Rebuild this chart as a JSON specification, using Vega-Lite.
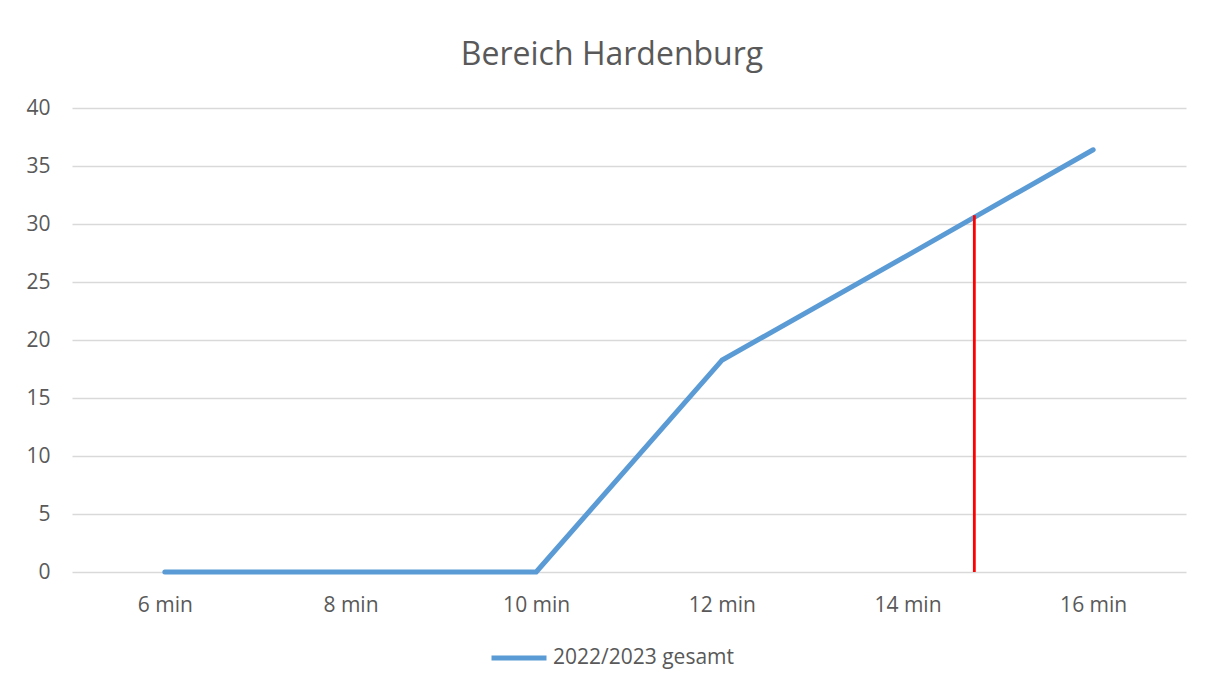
{
  "$schema": "https://vega.github.io/schema/vega-lite/v6.json",
  "width": 1114,
  "height": 464,
  "autosize": {"type": "none"},
  "padding": {"left": 72, "top": 108, "right": 24, "bottom": 114},
  "background": "#ffffff",
  "title": {
    "text": "Bereich Hardenburg",
    "font": "Open Sans",
    "fontSize": 32,
    "fontWeight": "normal",
    "color": "#595959",
    "frame": "group",
    "anchor": "middle",
    "dx": -17,
    "baseline": "alphabetic",
    "offset": 0
  },
  "datasets": {
    "serie": [
      {"minuten": 6, "anzahl": 0, "serie": "2022/2023 gesamt"},
      {"minuten": 8, "anzahl": 0, "serie": "2022/2023 gesamt"},
      {"minuten": 10, "anzahl": 0, "serie": "2022/2023 gesamt"},
      {"minuten": 12, "anzahl": 18.25, "serie": "2022/2023 gesamt"},
      {"minuten": 14, "anzahl": 27.3, "serie": "2022/2023 gesamt"},
      {"minuten": 16, "anzahl": 36.4, "serie": "2022/2023 gesamt"}
    ],
    "marke": [
      {"minuten": 14.72, "anzahl": 30.75}
    ]
  },
  "config": {
    "view": {"stroke": null},
    "axis": {
      "labelFont": "Open Sans",
      "labelFontSize": 21,
      "labelColor": "#595959",
      "ticks": false,
      "tickSize": 0,
      "domain": false,
      "title": null
    }
  },
  "layer": [
    {
      "data": {"name": "serie"},
      "mark": {"type": "line", "strokeWidth": 5, "strokeCap": "round", "strokeJoin": "round"},
      "encoding": {
        "x": {
          "field": "minuten",
          "type": "quantitative",
          "scale": {"domain": [5, 17], "nice": false, "zero": false},
          "axis": {
            "values": [6, 8, 10, 12, 14, 16],
            "labelExpr": "datum.value + ' min'",
            "grid": false,
            "labelPadding": 22
          }
        },
        "y": {
          "field": "anzahl",
          "type": "quantitative",
          "scale": {"domain": [0, 40], "nice": false},
          "axis": {
            "values": [0, 5, 10, 15, 20, 25, 30, 35, 40],
            "grid": true,
            "gridColor": "#d9d9d9",
            "gridWidth": 1.5,
            "labelPadding": 22
          }
        },
        "color": {
          "field": "serie",
          "type": "nominal",
          "scale": {"range": ["#5B9BD5"]},
          "legend": {
            "orient": "none",
            "legendX": 417,
            "legendY": 520,
            "title": null,
            "symbolType": "stroke",
            "symbolSize": 3025,
            "symbolStrokeWidth": 5,
            "labelFont": "Open Sans",
            "labelFontSize": 21,
            "labelColor": "#595959",
            "labelOffset": 4,
            "labelLimit": 400
          }
        }
      }
    },
    {
      "data": {"name": "marke"},
      "mark": {"type": "rule", "color": "#FF0000", "strokeWidth": 2.8},
      "encoding": {
        "x": {"field": "minuten", "type": "quantitative"},
        "y": {"field": "anzahl", "type": "quantitative"},
        "y2": {"datum": 0}
      }
    }
  ]
}
